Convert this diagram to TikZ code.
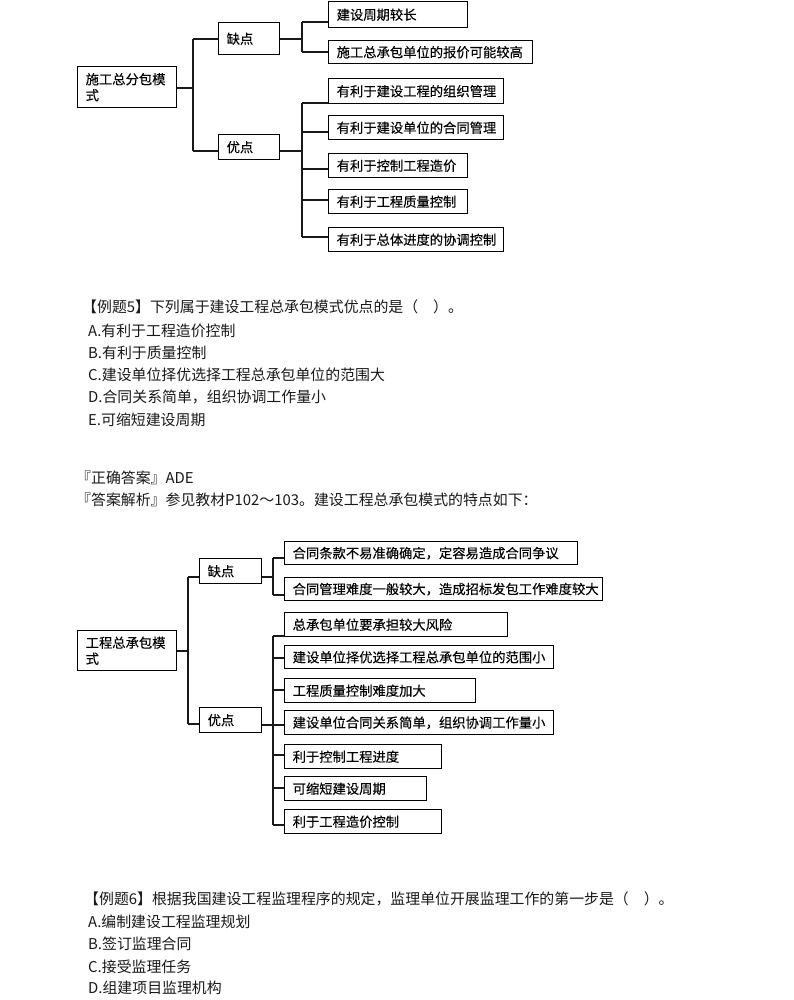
\documentclass[tikz,border=0pt]{standalone}
\usepackage{fontspec}
\newfontfamily\cjk{Noto Sans CJK SC}
\newfontfamily\cjkb[FakeBold=0.2]{Noto Sans CJK SC}
\begin{document}
\begin{tikzpicture}[x=1pt,y=-1pt,
  bx/.style={draw=black, line width=1.4pt, anchor=north west, inner xsep=8pt, inner ysep=0pt,
    align=left, font=\cjkb\fontsize{13.3}{16}\selectfont},
  ln/.style={line width=1.2pt, draw=black!90},
  txt/.style={anchor=west, inner sep=0pt, font=\cjk\fontsize{14.9}{17}\selectfont, text=black!90}]
\fill[white] (0,0) rectangle (794,1000);
\useasboundingbox (0,0) rectangle (794,1000);

% ---------- diagram 1 ----------
\node[bx, text width=83pt, minimum height=41pt] (r1) at (77,66) {施工总分包模\\式};
\node[bx, text width=45pt, minimum height=32pt] (q1) at (218,22) {缺点};
\node[bx, text width=45pt, minimum height=25pt] (y1) at (218,134) {优点};
\node[bx, text width=123pt, minimum height=26pt] (a1) at (328,1) {建设周期较长};
\node[bx, text width=188pt, minimum height=23pt] (a2) at (328,40) {施工总承包单位的报价可能较高};
\node[bx, text width=159pt, minimum height=25pt] (b1) at (328,78) {有利于建设工程的组织管理};
\node[bx, text width=159pt, minimum height=24pt] (b2) at (328,115) {有利于建设单位的合同管理};
\node[bx, text width=123pt, minimum height=24pt] (b3) at (328,153) {有利于控制工程造价};
\node[bx, text width=123pt, minimum height=24pt] (b4) at (328,189) {有利于工程质量控制};
\node[bx, text width=159pt, minimum height=24pt] (b5) at (328,227) {有利于总体进度的协调控制};

\coordinate (j1) at (193,88);
\coordinate (j1t) at (193,39);
\coordinate (j1b) at (193,151);
\draw[ln] (j1 -| r1.east) -- (j1);
\draw[ln] (j1t) -- (j1b);
\draw[ln] (j1t) -- (j1t -| q1.west);
\draw[ln] (j1b) -- (j1b -| y1.west);

\coordinate (k1) at (302,39);
\coordinate (k1t) at (302,22);
\coordinate (k1b) at (302,52);
\draw[ln] (k1 -| q1.east) -- (k1);
\draw[ln] (k1t) -- (k1b);
\draw[ln] (k1t) -- (k1t -| a1.west);
\draw[ln] (k1b) -- (k1b -| a2.west);

\coordinate (m1) at (302,151);
\coordinate (m1a) at (302,103);
\coordinate (m1b) at (302,132);
\coordinate (m1c) at (302,169);
\coordinate (m1d) at (302,200);
\coordinate (m1e) at (302,237);
\draw[ln] (m1 -| y1.east) -- (m1);
\draw[ln] (m1a) -- (m1e);
\draw[ln] (m1a) -- (m1a -| b1.west);
\draw[ln] (m1b) -- (m1b -| b2.west);
\draw[ln] (m1c) -- (m1c -| b3.west);
\draw[ln] (m1d) -- (m1d -| b4.west);
\draw[ln] (m1e) -- (m1e -| b5.west);

% ---------- question 5 ----------
\node[txt] (t1) at (82,307) {【例题5】下列属于建设工程总承包模式优点的是（\hspace{1em}）。};
\node[txt] (t2) at (88,331) {A.有利于工程造价控制};
\node[txt] (t3) at (88,353) {B.有利于质量控制};
\node[txt] (t4) at (88,375) {C.建设单位择优选择工程总承包单位的范围大};
\node[txt] (t5) at (88,397) {D.合同关系简单，组织协调工作量小};
\node[txt] (t6) at (88,420) {E.可缩短建设周期};
\node[txt] (t7) at (76,478) {『正确答案』ADE};
\node[txt] (t8) at (76,500) {『答案解析』参见教材P102～103。建设工程总承包模式的特点如下：};

% ---------- diagram 2 ----------
\node[bx, text width=83pt, minimum height=40pt] (r2) at (77,630) {工程总承包模\\式};
\node[bx, text width=46pt, minimum height=25pt] (q2) at (199,558) {缺点};
\node[bx, text width=46pt, minimum height=25pt] (y2) at (199,707) {优点};
\node[bx, text width=277pt, minimum height=23pt] (c1) at (284,541) {合同条款不易准确确定，定容易造成合同争议};
\node[bx, text width=302pt, minimum height=23pt] (c2) at (284,577) {合同管理难度一般较大，造成招标发包工作难度较大};
\node[bx, text width=207pt, minimum height=24pt] (e1) at (284,612) {总承包单位要承担较大风险};
\node[bx, text width=253pt, minimum height=23pt] (e2) at (284,645) {建设单位择优选择工程总承包单位的范围小};
\node[bx, text width=175pt, minimum height=24pt] (e3) at (284,678) {工程质量控制难度加大};
\node[bx, text width=253pt, minimum height=24pt] (e4) at (284,710) {建设单位合同关系简单，组织协调工作量小};
\node[bx, text width=141pt, minimum height=24pt] (e5) at (284,744) {利于控制工程进度};
\node[bx, text width=126pt, minimum height=24pt] (e6) at (284,776) {可缩短建设周期};
\node[bx, text width=141pt, minimum height=24pt] (e7) at (284,809) {利于工程造价控制};

\coordinate (j2) at (188,651);
\coordinate (j2t) at (188,577);
\coordinate (j2b) at (188,724);
\draw[ln] (j2 -| r2.east) -- (j2);
\draw[ln] (j2t) -- (j2b);
\draw[ln] (j2t) -- (j2t -| q2.west);
\draw[ln] (j2b) -- (j2b -| y2.west);

\coordinate (k2) at (273,577);
\coordinate (k2t) at (273,558);
\coordinate (k2b) at (273,595);
\draw[ln] (k2 -| q2.east) -- (k2);
\draw[ln] (k2t) -- (k2b);
\draw[ln] (k2t) -- (k2t -| c1.west);
\draw[ln] (k2b) -- (k2b -| c2.west);

\coordinate (m2) at (273,725);
\coordinate (m2a) at (273,636);
\coordinate (m2b) at (273,658);
\coordinate (m2c) at (273,690);
\coordinate (m2e) at (273,755);
\coordinate (m2f) at (273,788);
\coordinate (m2g) at (273,825);
\draw[ln] (m2 -| y2.east) -- (m2 -| e4.west);
\draw[ln] (m2a) -- (m2g);
\draw[ln] (m2a) -- (m2a -| e1.west);
\draw[ln] (m2b) -- (m2b -| e2.west);
\draw[ln] (m2c) -- (m2c -| e3.west);
\draw[ln] (m2e) -- (m2e -| e5.west);
\draw[ln] (m2f) -- (m2f -| e6.west);
\draw[ln] (m2g) -- (m2g -| e7.west);

% ---------- question 6 ----------
\node[txt] (s1) at (84,899) {【例题6】根据我国建设工程监理程序的规定，监理单位开展监理工作的第一步是（\hspace{1em}）。};
\node[txt] (s2) at (88,922) {A.编制建设工程监理规划};
\node[txt] (s3) at (88,944) {B.签订监理合同};
\node[txt] (s4) at (88,967) {C.接受监理任务};
\node[txt] (s5) at (88,988) {D.组建项目监理机构};
\end{tikzpicture}
\end{document}
